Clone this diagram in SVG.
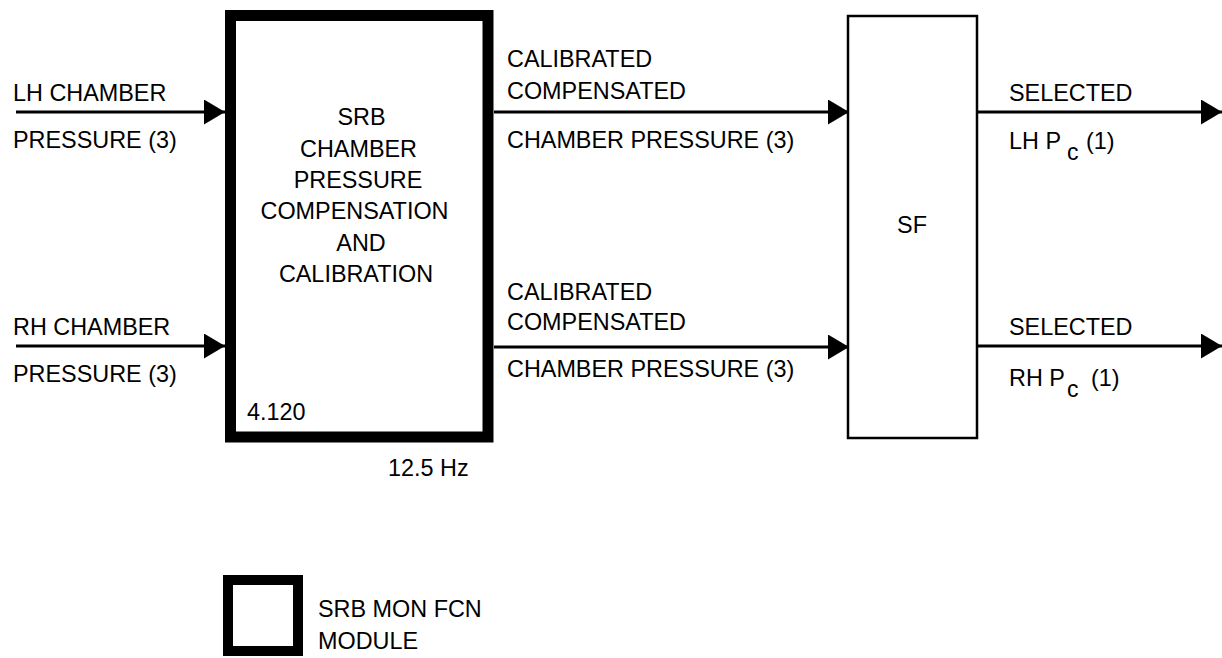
<svg xmlns="http://www.w3.org/2000/svg" width="1222" height="658" viewBox="0 0 1222 658">
<style>
text{font-family:"Liberation Sans",Arial,sans-serif;font-size:23.4px;fill:#000}
.c{text-anchor:middle}
.sub{font-size:23px}
.wire{stroke:#000;stroke-width:3;fill:none}
</style>
<defs>
<marker id="ah" markerUnits="userSpaceOnUse" markerWidth="22" markerHeight="26" refX="21" refY="12.5" orient="auto">
<path d="M0,0 L21,12.5 L0,25 z" fill="#000"/>
</marker>
</defs>
<rect width="1222" height="658" fill="#fff"/>
<g id="connectors">
<line class="wire" x1="16" y1="112" x2="225" y2="112" marker-end="url(#ah)"/>
<line class="wire" x1="16" y1="346" x2="225" y2="346" marker-end="url(#ah)"/>
<line class="wire" x1="494" y1="112" x2="849" y2="112" marker-end="url(#ah)"/>
<line class="wire" x1="494" y1="347" x2="849" y2="347" marker-end="url(#ah)"/>
<line class="wire" x1="977" y1="112" x2="1222" y2="112" marker-end="url(#ah)"/>
<line class="wire" x1="977" y1="346" x2="1222" y2="346" marker-end="url(#ah)"/>
</g>
<g id="labels">
<text x="13" y="101">LH CHAMBER</text>
<text x="13" y="148">PRESSURE (3)</text>
<text x="13" y="335">RH CHAMBER</text>
<text x="13" y="382">PRESSURE (3)</text>
<text x="507" y="67">CALIBRATED</text>
<text x="507" y="99">COMPENSATED</text>
<text x="507" y="148">CHAMBER PRESSURE (3)</text>
<text x="507" y="300">CALIBRATED</text>
<text x="507" y="330">COMPENSATED</text>
<text x="507" y="377">CHAMBER PRESSURE (3)</text>
<text x="1009" y="101">SELECTED</text>
<text x="1009" y="149">LH P</text>
<text x="1067" y="160" class="sub">c</text>
<text x="1086" y="149">(1)</text>
<text x="1009" y="335">SELECTED</text>
<text x="1009" y="386">RH P</text>
<text x="1067" y="397" class="sub">c</text>
<text x="1091" y="386">(1)</text>
</g>
<g id="module-4120">
<rect x="230.5" y="15.5" width="257.5" height="421.5" fill="#fff" stroke="#000" stroke-width="11"/>
<text class="c" x="361.5" y="125">SRB</text>
<text class="c" x="358.5" y="157">CHAMBER</text>
<text class="c" x="358" y="188">PRESSURE</text>
<text class="c" x="354.5" y="219">COMPENSATION</text>
<text class="c" x="361" y="251">AND</text>
<text class="c" x="356" y="282">CALIBRATION</text>
<text x="247" y="420">4.120</text>
<text x="388" y="476">12.5 Hz</text>
</g>
<g id="sf">
<rect x="848" y="16" width="129" height="422" fill="#fff" stroke="#000" stroke-width="2.5"/>
<text class="c" x="912" y="233">SF</text>
</g>
<g id="legend">
<rect x="228" y="580" width="70" height="71" fill="#fff" stroke="#000" stroke-width="10"/>
<text x="318" y="617">SRB MON FCN</text>
<text x="318" y="649">MODULE</text>
</g>
</svg>
